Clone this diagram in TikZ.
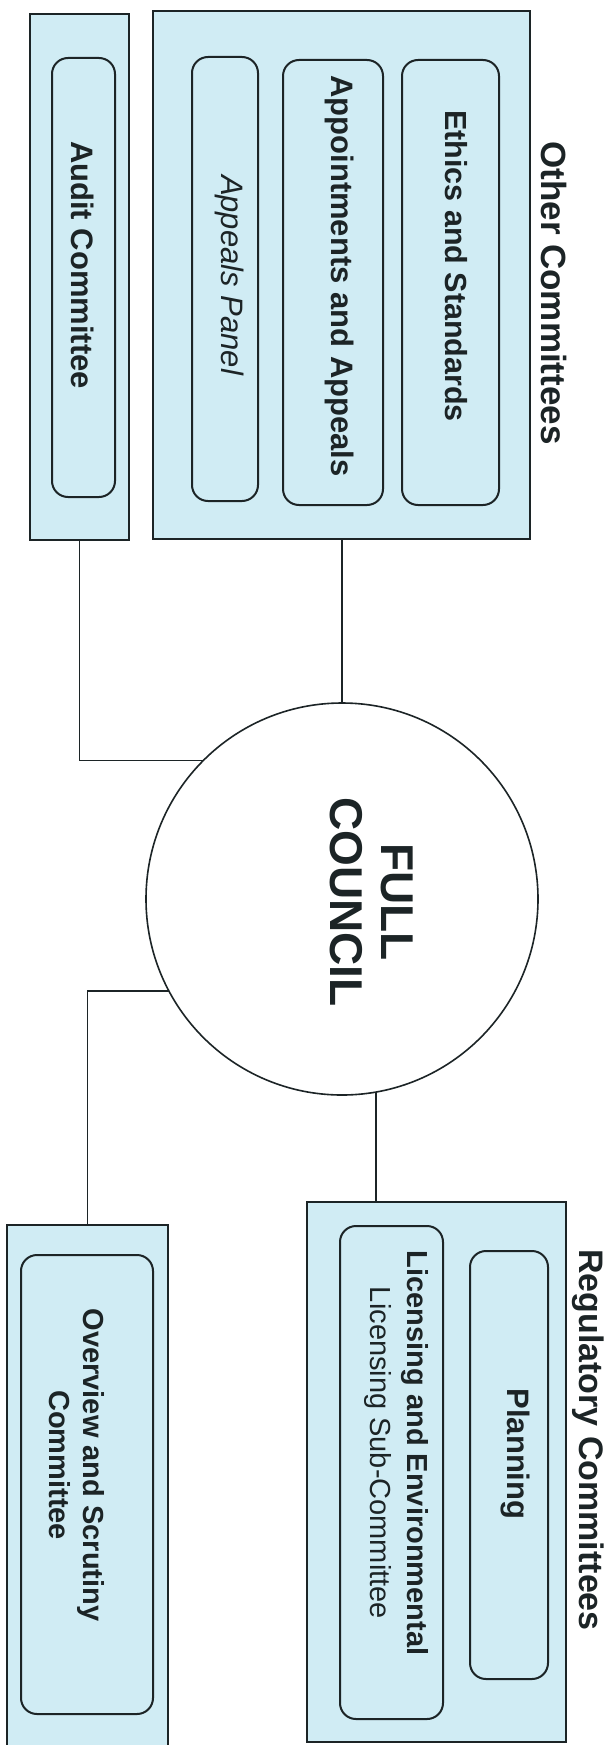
\documentclass[tikz,border=0pt]{standalone}
\usepackage{fontspec}
\setmainfont{Liberation Sans}
\definecolor{boxfill}{RGB}{208,236,244}
\definecolor{ink}{RGB}{28,36,38}
\tikzset{
  x=1pt, y=-1pt,
  outerbox/.style={draw=ink, line width=2pt, fill=boxfill, rectangle, inner sep=0pt, outer sep=0pt},
  innerbox/.style={draw=ink, line width=2pt, fill=boxfill, rectangle, rounded corners=16pt, inner sep=0pt, outer sep=0pt},
  link/.style={draw=ink, line width=1.4pt},
  lbl/.style={text=ink, rotate=-90, inner sep=0pt, align=center},
  bsz/.style={font=\fontsize{31}{37}\selectfont\bfseries},
}
\begin{document}
\begin{tikzpicture}
\useasboundingbox (0,0) rectangle (609,1745);
% Other committees
\node[outerbox, minimum width=99pt, minimum height=526pt] (audit) at (79.5,277) {};
\node[innerbox, minimum width=63pt, minimum height=439pt] (auditin) at (83.5,277.5) {};
\node[outerbox, minimum width=377pt, minimum height=528pt] (other) at (341.5,275) {};
\node[innerbox, minimum width=66pt, minimum height=444pt] (panel) at (225,279) {};
\node[innerbox, minimum width=100pt, minimum height=445pt] (appoint) at (333,282.5) {};
\node[innerbox, minimum width=97pt, minimum height=445pt] (ethics) at (450.5,282.5) {};
\node[lbl, font=\fontsize{35}{40}\selectfont\bfseries] (othert) at (554,293) {Other Committees};
\node[lbl, bsz] (auditl) at (83,265) {Audit Committee};
\node[lbl, font=\fontsize{31}{37}\selectfont\itshape] (panell) at (230,275) {Appeals Panel};
\node[lbl, bsz] (appointl) at (340,276) {Appointments and Appeals};
\node[lbl, font=\fontsize{30.5}{36}\selectfont\bfseries] (ethicsl) at (456,266) {Ethics and Standards};
% Full council
\node[draw=ink, line width=1.6pt, fill=white, circle, minimum size=392pt, inner sep=0pt, outer sep=0pt] (fc) at (342,899) {};
\node[lbl, font=\fontsize{46}{51}\selectfont\bfseries] (fcl) at (372,902) {FULL\\COUNCIL};
% Lower boxes
\node[outerbox, minimum width=161pt, minimum height=524pt] (overview) at (87.5,1487) {};
\node[innerbox, minimum width=132pt, minimum height=459pt] (overin) at (87,1484.5) {};
\node[lbl, font=\fontsize{29}{34}\selectfont\bfseries] (overl) at (77,1465) {Overview and Scrutiny\\Committee};
\node[outerbox, minimum width=259pt, minimum height=540pt] (reg) at (436.5,1472) {};
\node[innerbox, minimum width=103pt, minimum height=493pt] (lic) at (391.5,1472.5) {};
\node[innerbox, minimum width=78pt, minimum height=428pt] (plan) at (509,1465) {};
\node[lbl, font=\fontsize{34}{40}\selectfont\bfseries] (regt) at (588,1440) {Regulatory Committees};
\node[lbl, font=\fontsize{29}{37}\selectfont] (licl) at (396,1453) {{\bfseries Licensing and Environmental}\\Licensing Sub-Committee};
\node[lbl, bsz] (planl) at (515,1454) {Planning};
% Connectors
\draw[link] (fc.north) -- (fc.north |- other.south);
\draw[link] (audit.south) |- (fc.135);
\draw[link] (fc.208) -| (overview.north);
\draw[link] (fc.280) -- (fc.280 |- reg.north);
\end{tikzpicture}
\end{document}
